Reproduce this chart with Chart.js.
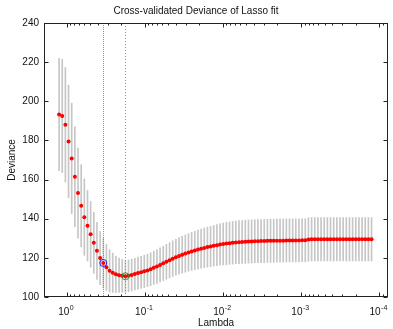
<!DOCTYPE html>
<html>
<head>
<meta charset="utf-8">
<script src="https://cdn.jsdelivr.net/npm/chart.js@4.4.0/dist/chart.umd.min.js"></script>
<style>
  html, body { margin: 0; padding: 0; background: #fff; }
  canvas { display: block; }
</style>
</head>
<body>
<canvas id="chart" width="393" height="329"></canvas>
<script>
// lambda grid, largest first
const lambda = [
  1.250, 1.139, 1.038, 0.9456, 0.8616, 0.7850, 0.7153, 0.6518, 0.5939, 0.5411,
  0.4930, 0.4492, 0.4093, 0.3730, 0.3398, 0.3096, 0.2821, 0.2571, 0.2342, 0.2134,
  0.1945, 0.1772, 0.1614, 0.1471, 0.1340, 0.1221, 0.1113, 0.1014, 0.09238, 0.08418,
  0.07670, 0.06989, 0.06368, 0.05802, 0.05287, 0.04817, 0.04389, 0.03999, 0.03644, 0.03320,
  0.03025, 0.02756, 0.02512, 0.02288, 0.02085, 0.01900, 0.01731, 0.01577, 0.01437, 0.01310,
  0.01193, 0.01087, 0.009906, 0.009026, 0.008224, 0.007494, 0.006828, 0.006221, 0.005669, 0.005165,
  0.004706, 0.004288, 0.003907, 0.003560, 0.003244, 0.002956, 0.002693, 0.002454, 0.002236, 0.002037,
  0.001856, 0.001691, 0.001541, 0.001404, 0.001279, 0.001166, 0.001062, 0.0009678, 0.0008819, 0.0008035,
  0.0007321, 0.0006671, 0.0006078, 0.0005538, 0.0005046, 0.0004598, 0.0004190, 0.0003817, 0.0003478, 0.0003169,
  0.0002888, 0.0002631, 0.0002397, 0.0002185, 0.0001990, 0.0001814, 0.0001652, 0.0001506, 0.0001372, 0.0001250
];

// mean cross-validated deviance at each lambda
const deviance = [
  193.3, 192.5, 188.0, 179.5, 170.8, 161.4, 153.1, 146.6, 140.8, 136.4,
  132.0, 127.7, 123.6, 119.9, 117.4, 115.2, 113.4, 112.4, 111.6, 111.1,
  110.8, 110.6, 110.8, 111.2, 111.7, 112.2, 112.6, 113.1, 113.6, 114.2,
  114.9, 115.6, 116.4, 117.2, 118.0, 118.8, 119.6, 120.3, 121.0, 121.6,
  122.2, 122.8, 123.3, 123.8, 124.3, 124.7, 125.1, 125.5, 125.8, 126.2,
  126.5, 126.8, 127.1, 127.3, 127.5, 127.7, 127.9, 128.0, 128.1, 128.2,
  128.3, 128.4, 128.5, 128.5, 128.6, 128.6, 128.7, 128.7, 128.7, 128.8,
  128.8, 128.8, 128.9, 128.9, 128.9, 128.9, 128.9, 129.0, 129.0, 129.4,
  129.5, 129.5, 129.5, 129.5, 129.5, 129.5, 129.5, 129.5, 129.5, 129.5,
  129.5, 129.5, 129.5, 129.5, 129.5, 129.5, 129.5, 129.5, 129.5, 129.5
];

// standard error of the deviance (error bar half height)
const devianceSE = [
  28.7, 28.9, 29.2, 28.8, 28.2, 25.5, 23.0, 21.0, 19.5, 18.0,
  16.8, 15.6, 14.6, 13.6, 12.8, 11.8, 10.8, 10.0, 9.3, 8.8,
  8.4, 8.2, 8.1, 8.1, 8.1, 8.2, 8.2, 8.3, 8.3, 8.4,
  8.5, 8.6, 8.7, 8.8, 8.9, 9.0, 9.1, 9.2, 9.3, 9.4,
  9.5, 9.6, 9.7, 9.8, 9.9, 10.0, 10.1, 10.2, 10.3, 10.4,
  10.5, 10.6, 10.7, 10.8, 10.8, 10.9, 10.9, 11.0, 11.0, 11.0,
  11.0, 11.0, 11.0, 11.0, 11.0, 11.0, 11.0, 11.0, 11.0, 11.0,
  11.0, 11.0, 11.0, 11.0, 11.0, 11.0, 11.0, 11.0, 11.0, 11.1,
  11.1, 11.1, 11.1, 11.1, 11.1, 11.1, 11.1, 11.1, 11.1, 11.1,
  11.1, 11.1, 11.1, 11.1, 11.1, 11.1, 11.1, 11.1, 11.1, 11.1
];

const minIndex = 21;   // minimum deviance (green)
const se1Index = 14;   // min + 1 SE (blue)

const yTicks = [100, 120, 140, 160, 180, 200, 220, 240];
const xTicks = [1, 0.1, 0.01, 0.001, 0.0001];
const xTickExponents = ['0', '-1', '-2', '-3', '-4'];

const fontFamily = "'Liberation Sans', Arial, sans-serif";
Chart.defaults.font.family = fontFamily;
Chart.defaults.font.size = 10;
Chart.defaults.color = '#111';

// dotted vertical markers, drawn right after the error bars
const markerPlugin = {
  id: 'lambdaMarkers',
  afterDatasetDraw(chart, args) {
    if (args.index !== 0) return;
    const ctx = chart.ctx;
    const a = chart.chartArea;
    const xs = chart.scales.x;
    const lines = [
      { v: lambda[se1Index], color: '#7f7fff', dash: [1, 1] },
      { v: lambda[minIndex], color: '#2ed22e', dash: [1, 2] }
    ];
    ctx.save();
    ctx.lineWidth = 1;
    lines.forEach(l => {
      const x = Math.round(xs.getPixelForValue(l.v)) + 0.5;
      ctx.strokeStyle = l.color;
      ctx.setLineDash(l.dash);
      ctx.beginPath();
      ctx.moveTo(x, a.top);
      ctx.lineTo(x, a.bottom);
      ctx.stroke();
    });
    ctx.restore();
  }
};

// matlab style box with inward ticks and 10^n labels
const boxPlugin = {
  id: 'matlabBox',
  afterDatasetsDraw(chart) {
    const ctx = chart.ctx;
    const a = chart.chartArea;
    const xs = chart.scales.x;
    const ys = chart.scales.y;
    const left = Math.round(a.left) + 0.5;
    const right = Math.round(a.right) - 0.5;
    const top = Math.round(a.top) + 0.5;
    const bottom = Math.round(a.bottom) - 0.5;
    ctx.save();
    ctx.strokeStyle = '#222';
    ctx.lineWidth = 1;
    ctx.beginPath();
    yTicks.forEach(v => {
      const y = Math.round(ys.getPixelForValue(v)) + 0.5;
      ctx.moveTo(left, y); ctx.lineTo(left + 4, y);
      ctx.moveTo(right, y); ctx.lineTo(right - 4, y);
    });
    for (let e = -5; e <= 1; e++) {
      for (let m = 1; m <= 9; m++) {
        const v = m * Math.pow(10, e);
        if (v < xs.min || v > xs.max) continue;
        const x = Math.round(xs.getPixelForValue(v)) + 0.5;
        const len = m === 1 ? 4 : 2;
        ctx.moveTo(x, bottom); ctx.lineTo(x, bottom - len);
        ctx.moveTo(x, top); ctx.lineTo(x, top + len);
      }
    }
    ctx.stroke();
    ctx.strokeRect(left, top, right - left, bottom - top);

    // tick labels: base "10" with a raised exponent
    ctx.fillStyle = '#111';
    ctx.textBaseline = 'alphabetic';
    ctx.textAlign = 'left';
    xTicks.forEach((v, i) => {
      const x = xs.getPixelForValue(v);
      ctx.font = '10px ' + fontFamily;
      const wb = ctx.measureText('10').width;
      ctx.font = '7px ' + fontFamily;
      const we = ctx.measureText(xTickExponents[i]).width;
      const x0 = x - (wb + we) / 2 - 1;
      ctx.font = '10px ' + fontFamily;
      ctx.fillText('10', x0, a.bottom + 18);
      ctx.font = '7px ' + fontFamily;
      ctx.fillText(xTickExponents[i], x0 + wb + 0.5, a.bottom + 13);
    });
    ctx.restore();
  }
};

const points = lambda.map((l, i) => ({ x: l, y: deviance[i] }));
const bars = lambda.map((l, i) => ({ x: l, y: [deviance[i] - devianceSE[i], deviance[i] + devianceSE[i]] }));

new Chart(document.getElementById('chart'), {
  type: 'scatter',
  data: {
    datasets: [
      {
        type: 'bar',
        data: bars,
        backgroundColor: '#c6c6c6',
        borderWidth: 0,
        barThickness: 1,
        order: 5
      },
      {
        data: points,
        pointRadius: 2,
        backgroundColor: '#ff0000',
        borderWidth: 0,
        order: 2
      },
      {
        data: [points[se1Index]],
        pointRadius: 3.5,
        backgroundColor: 'rgba(0,0,0,0)',
        borderColor: '#1a1aff',
        borderWidth: 1,
        order: 1
      },
      {
        data: [points[minIndex]],
        pointRadius: 3.5,
        backgroundColor: 'rgba(0,0,0,0)',
        borderColor: '#2a9a2a',
        borderWidth: 1,
        order: 1
      }
    ]
  },
  options: {
    responsive: false,
    animation: false,
    devicePixelRatio: 1,
    layout: { padding: { left: 0, right: 1, top: 0, bottom: 0 } },
    plugins: {
      legend: { display: false },
      tooltip: { enabled: false },
      title: {
        display: true,
        text: 'Cross-validated Deviance of Lasso fit',
        font: { size: 10, weight: 'normal' },
        color: '#111',
        padding: { top: 5, bottom: 6 }
      }
    },
    scales: {
      x: {
        type: 'logarithmic',
        reverse: true,
        min: 7.7e-5,
        max: 1.95,
        offset: false,
        grid: { display: false, drawTicks: false, offset: false },
        border: { display: false },
        afterBuildTicks: (scale) => {
          scale.ticks = xTicks.map(v => ({ value: v }));
        },
        afterFit: (scale) => { scale.height = 32; },
        ticks: { display: false },
        title: { display: true, text: 'Lambda', padding: { top: 0, bottom: 0 } }
      },
      y: {
        min: 100,
        max: 240,
        grid: { display: false, drawTicks: false },
        border: { display: false },
        afterFit: (scale) => { scale.width = 44; },
        ticks: { stepSize: 20, padding: 5 },
        title: { display: true, text: 'Deviance', padding: { top: 6, bottom: 0 } }
      }
    }
  },
  plugins: [markerPlugin, boxPlugin]
});
</script>
</body>
</html>
